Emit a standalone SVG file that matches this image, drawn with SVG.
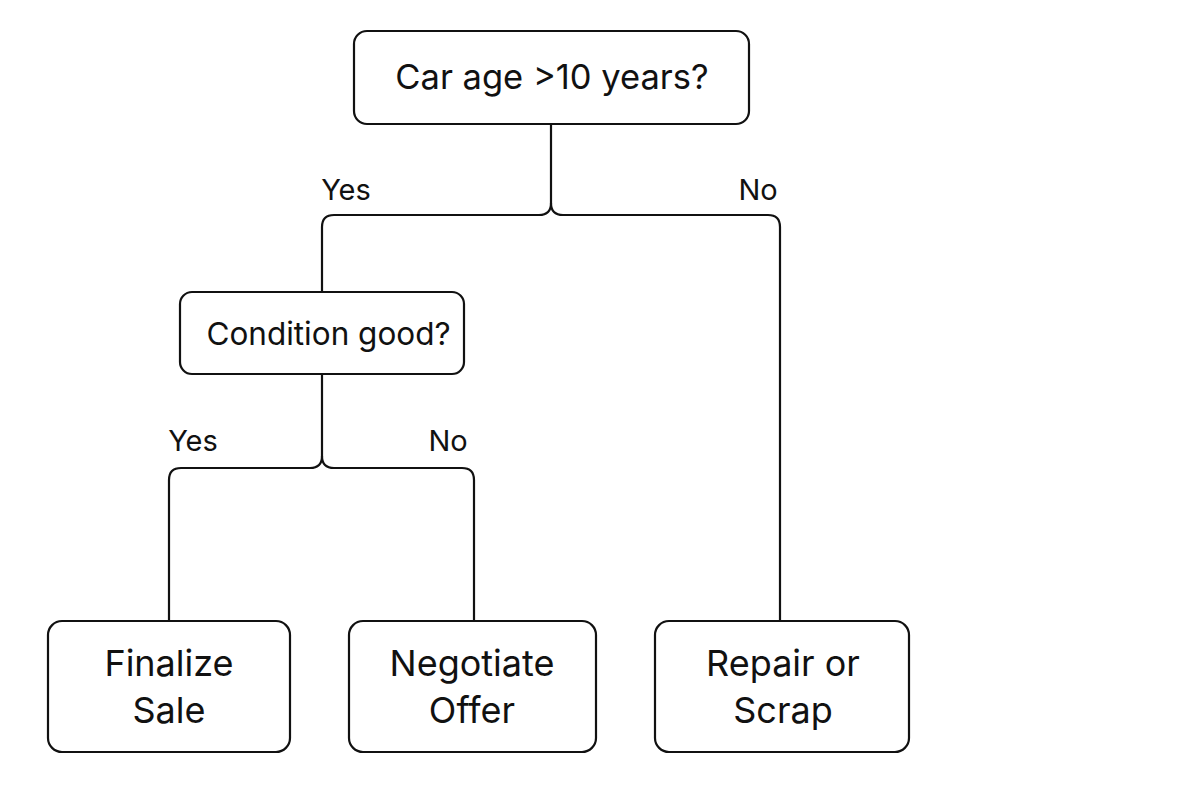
<svg xmlns="http://www.w3.org/2000/svg" width="1200" height="800" viewBox="0 0 1200 800">
<style>
.box{fill:#fff;stroke:#111;stroke-width:2.2}
.t{font-family:Inter,"Liberation Sans",sans-serif;fill:#111;text-anchor:middle}
.c{fill:none;stroke:#111;stroke-width:2.2}
</style>
<rect width="1200" height="800" fill="#fff"/>
<g id="connectors">
<path class="c" d="M551,124 V203 Q551,215 539,215 H334 Q322,215 322,227 V292"/>
<path class="c" d="M551,203 Q551,215 563,215 H768 Q780,215 780,227 V620"/>
<path class="c" d="M322,374 V456 Q322,468 310,468 H181 Q169,468 169,480 V621"/>
<path class="c" d="M322,456 Q322,468 334,468 H462 Q474,468 474,480 V621"/>
<text class="t" x="346" y="200" font-size="29">Yes</text>
<text class="t" x="758" y="200" font-size="29">No</text>
<text class="t" x="193" y="451" font-size="29">Yes</text>
<text class="t" x="448" y="451" font-size="29">No</text>
</g>
<g id="n1">
<rect class="box" x="354" y="31" width="395" height="93" rx="13"/>
<text class="t" x="552" y="89" font-size="34.5">Car age &gt;10 years?</text>
</g>
<g id="n2">
<rect class="box" x="180" y="292" width="284" height="82" rx="12"/>
<text class="t" x="328.5" y="345" font-size="31.5">Condition good?</text>
</g>
<g id="n3">
<rect class="box" x="48" y="621" width="242" height="131" rx="14"/>
<text class="t" x="169" y="676" font-size="36">Finalize</text>
<text class="t" x="169" y="723" font-size="36">Sale</text>
</g>
<g id="n4">
<rect class="box" x="349" y="621" width="247" height="131" rx="14"/>
<text class="t" x="472" y="676" font-size="36">Negotiate</text>
<text class="t" x="472" y="723" font-size="36">Offer</text>
</g>
<g id="n5">
<rect class="box" x="655" y="621" width="254" height="131" rx="14"/>
<text class="t" x="783" y="676" font-size="36">Repair or</text>
<text class="t" x="783" y="723" font-size="36">Scrap</text>
</g>
</svg>
